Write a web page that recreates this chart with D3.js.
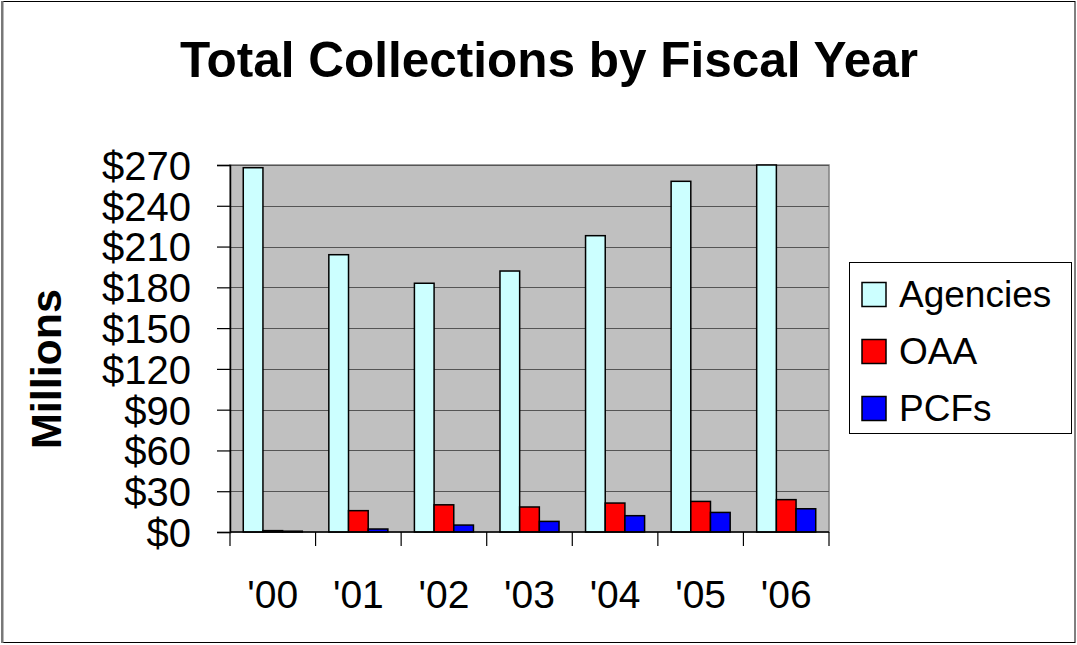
<!DOCTYPE html>
<html>
<head>
<meta charset="utf-8">
<script src="https://cdn.jsdelivr.net/npm/d3@7"></script>
<style>
  body { margin: 0; background: #fff; }
  svg text { font-family: "Liberation Sans", Arial, sans-serif; fill: #000; }
</style>
</head>
<body>
<div id="chart"></div>
<script>
// chart values (millions of dollars)
var years = ["'00", "'01", "'02", "'03", "'04", "'05", "'06"];
var agencies = [268, 204, 183, 192, 218, 258, 270];
var oaa = [1, 15.7, 20, 18.4, 21.3, 22.5, 23.8];
var pcfs = [0.6, 2.2, 5.1, 7.8, 12, 14.4, 17.1];
var seriesNames = ["Agencies", "OAA", "PCFs"];
var seriesColors = ["#CCFFFF", "#FF0000", "#0000FF"];
var yTicks = [0, 30, 60, 90, 120, 150, 180, 210, 240, 270];

var width = 1077, height = 645;
var plot = {left: 230, right: 829, top: 165, bottom: 532};

var svg = d3.select("#chart").append("svg")
    .attr("width", width)
    .attr("height", height);

// outer frame
svg.append("rect")
   .attr("x", 2).attr("y", 1.5)
   .attr("width", 1073).attr("height", 641)
   .attr("fill", "#fff")
   .attr("stroke", "#000").attr("stroke-width", 1);
svg.append("line")
   .attr("x1", 2.5).attr("x2", 2.5).attr("y1", 1).attr("y2", 643)
   .attr("stroke", "#777").attr("stroke-width", 2);

var y = d3.scaleLinear().domain([0, 270]).range([plot.bottom, plot.top]);

var x0 = d3.scaleBand()
    .domain(years)
    .range([plot.left, plot.right])
    .paddingInner(0.31)
    .paddingOuter(0.155);

var x1 = d3.scaleBand()
    .domain(seriesNames)
    .range([0, x0.bandwidth()]);

var color = d3.scaleOrdinal().domain(seriesNames).range(seriesColors);

// plot background
svg.append("rect")
   .attr("x", plot.left).attr("y", plot.top)
   .attr("width", plot.right - plot.left)
   .attr("height", plot.bottom - plot.top)
   .attr("fill", "#C0C0C0")
   .attr("stroke", "#808080").attr("stroke-width", 1.5);

// gridlines
svg.append("g")
   .selectAll("line")
   .data(yTicks.filter(function(d) { return d > 0; }))
   .enter().append("line")
   .attr("x1", plot.left).attr("x2", plot.right)
   .attr("y1", function(d) { return Math.round(y(d)) + 0.5; })
   .attr("y2", function(d) { return Math.round(y(d)) + 0.5; })
   .attr("stroke", "#555").attr("stroke-width", 1.2);

// bars
var rows = years.map(function(yr, i) {
  return {year: yr, values: [agencies[i], oaa[i], pcfs[i]]};
});

var groups = svg.append("g")
    .selectAll("g")
    .data(rows)
    .enter().append("g")
    .attr("transform", function(d) { return "translate(" + x0(d.year) + ",0)"; });

groups.selectAll("rect")
    .data(function(d) {
      return seriesNames.map(function(s, k) { return {key: s, value: d.values[k]}; });
    })
    .enter().append("rect")
    .attr("x", function(d) { return x1(d.key); })
    .attr("y", function(d) { return y(d.value); })
    .attr("width", x1.bandwidth())
    .attr("height", function(d) { return y(0) - y(d.value); })
    .attr("fill", function(d) { return color(d.key); })
    .attr("stroke", "#000")
    .attr("stroke-width", 1.5);

// y axis
var yAxis = d3.axisLeft(y)
    .tickValues(yTicks)
    .tickSize(13)
    .tickPadding(26)
    .tickFormat(function(d) { return "$" + d; });

var gy = svg.append("g")
    .attr("transform", "translate(" + plot.left + ",0)")
    .call(yAxis);
gy.select(".domain").attr("stroke", "#000").attr("stroke-width", 1.5);
gy.selectAll(".tick line").attr("stroke", "#000").attr("stroke-width", 1.2);
gy.selectAll(".tick text")
  .attr("font-size", 40)
  .attr("dy", "0.36em")
  .style("font-family", "'Liberation Sans', Arial, sans-serif");

// x axis: baseline, ticks at category boundaries, labels at centres
svg.append("line")
   .attr("x1", plot.left).attr("x2", plot.right)
   .attr("y1", y(0)).attr("y2", y(0))
   .attr("stroke", "#000").attr("stroke-width", 1.5);

var step = x0.step();
svg.append("g")
   .selectAll("line")
   .data(d3.range(years.length + 1))
   .enter().append("line")
   .attr("x1", function(i) { return plot.left + i * step; })
   .attr("x2", function(i) { return plot.left + i * step; })
   .attr("y1", y(0)).attr("y2", y(0) + 14)
   .attr("stroke", "#000").attr("stroke-width", 1.2);

svg.append("g")
   .selectAll("text")
   .data(years)
   .enter().append("text")
   .attr("x", function(d) { return x0(d) + x0.bandwidth() / 2; })
   .attr("y", 608)
   .attr("text-anchor", "middle")
   .attr("font-size", 39)
   .text(function(d) { return d; });

// title
svg.append("text")
   .attr("x", 549)
   .attr("y", 77)
   .attr("text-anchor", "middle")
   .attr("font-size", 49.5)
   .attr("font-weight", "bold")
   .text("Total Collections by Fiscal Year");

// y axis title
svg.append("text")
   .attr("transform", "translate(61,369) rotate(-90)")
   .attr("text-anchor", "middle")
   .attr("font-size", 43)
   .attr("font-weight", "bold")
   .text("Millions");

// legend
var legend = svg.append("g");
legend.append("rect")
   .attr("x", 849.5).attr("y", 262.5)
   .attr("width", 222).attr("height", 171)
   .attr("fill", "#fff")
   .attr("stroke", "#000").attr("stroke-width", 1);

var items = legend.selectAll("g.item")
   .data(seriesNames)
   .enter().append("g")
   .attr("class", "item")
   .attr("transform", function(d, i) { return "translate(0," + (i * 57) + ")"; });

items.append("rect")
   .attr("x", 862).attr("y", 282.5)
   .attr("width", 24).attr("height", 24)
   .attr("fill", function(d) { return color(d); })
   .attr("stroke", "#000").attr("stroke-width", 1.5);

items.append("text")
   .attr("x", 899)
   .attr("y", 307)
   .attr("font-size", 37)
   .text(function(d) { return d; });
</script>
</body>
</html>
